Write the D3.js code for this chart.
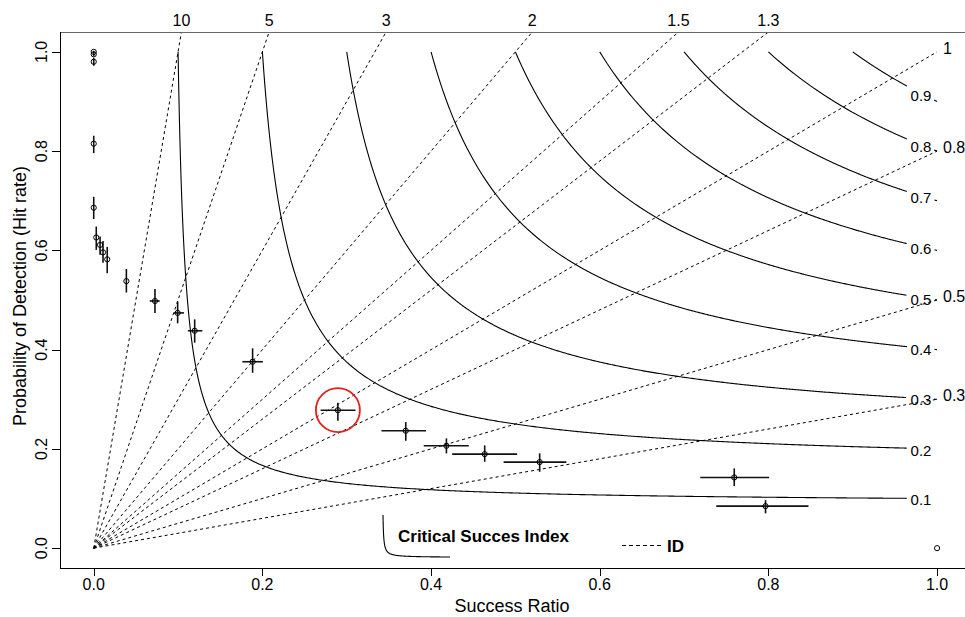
<!DOCTYPE html>
<html>
<head>
<meta charset="utf-8">
<script src="https://cdn.jsdelivr.net/npm/d3@7"></script>
<style>
  body { margin: 0; background: #fff; }
  svg { display: block; }
  text { font-family: "Liberation Sans", Arial, Helvetica, sans-serif; fill: #000; }
</style>
</head>
<body>
<svg id="chart" width="965" height="617"></svg>
<script>
// Critical success index contours
const csiLevels = [0.1, 0.2, 0.3, 0.4, 0.5, 0.6, 0.7, 0.8, 0.9];
// Frequency bias reference lines (labelled on top / right edge)
const biasTop = [10, 5, 3, 2, 1.5, 1.3];
const biasRight = [1, 0.8, 0.5, 0.3];
const axisTicks = [0, 0.2, 0.4, 0.6, 0.8, 1.0];

// Verification scores with their uncertainty ranges
const successRatio = [0.0, 0.0, 0.0, 0.0, 0.0, 0.003, 0.0075, 0.011, 0.016, 0.0387, 0.0726, 0.0995, 0.1197, 0.1884, 0.2895, 0.370, 0.4182, 0.4636, 0.5288, 0.7595, 0.7966, 1.0];
const srLow =        [0.0, 0.0, 0.0, 0.0, 0.0, 0.003, 0.0075, 0.011, 0.016, 0.0387, 0.0664, 0.0951, 0.1117, 0.1762, 0.269, 0.3412, 0.3913, 0.425, 0.486, 0.7192, 0.7382, 1.0];
const srHigh =       [0.0, 0.0, 0.0, 0.0, 0.0, 0.003, 0.0075, 0.011, 0.016, 0.0387, 0.0782, 0.107, 0.1288, 0.2006, 0.3104, 0.394, 0.4447, 0.502, 0.5604, 0.8009, 0.8475, 1.0];
const hitRate =      [1.0, 0.995, 0.980, 0.815, 0.686, 0.626, 0.611, 0.596, 0.582, 0.538, 0.498, 0.474, 0.438, 0.3756, 0.278, 0.2365, 0.2063, 0.1895, 0.1734, 0.1425, 0.0847, 0.0];
const hitLow =       [0.998, 0.991, 0.972, 0.796, 0.663, 0.601, 0.591, 0.575, 0.554, 0.515, 0.474, 0.453, 0.414, 0.3534, 0.2567, 0.2163, 0.191, 0.174, 0.1538, 0.125, 0.070, 0.0];
const hitHigh =      [1.002, 0.999, 0.988, 0.831, 0.708, 0.648, 0.628, 0.619, 0.607, 0.5625, 0.522, 0.4966, 0.461, 0.4026, 0.293, 0.254, 0.2212, 0.207, 0.191, 0.1607, 0.0968, 0.0];
const highlightIndex = 14;

const svg = d3.select("#chart");
const x = d3.scaleLinear().domain([-0.04, 1.04]).range([60, 970.8]);
const y = d3.scaleLinear().domain([-0.04, 1.04]).range([568, 32]);

svg.append("clipPath").attr("id", "plotArea")
  .append("rect")
  .attr("x", x(-0.04)).attr("y", y(1.04))
  .attr("width", x(1.04) - x(-0.04)).attr("height", y(-0.04) - y(1.04));

const plot = svg.append("g").attr("clip-path", "url(#plotArea)");
const line = d3.line().x(d => x(d[0])).y(d => y(d[1]));

// CSI curve: POD as a function of success ratio
function csiCurve(c) {
  const pts = [];
  const n = 400;
  for (let i = 0; i <= n; i++) {
    const p = 1 - (1 - c) * i / n;               // walk POD from 1 down to c
    const sr = 1 / (1 / c + 1 - 1 / p);
    pts.push([sr, p]);
  }
  for (let i = 0; i <= n; i++) {
    const sr = c + (1 - c) * i / n;              // and SR from c up to 1
    const p = 1 / (1 / c + 1 - 1 / sr);
    pts.push([sr, p]);
  }
  pts.sort((a, b) => a[0] - b[0] || b[1] - a[1]);
  return pts;
}

// CSI contours, broken where the label sits
const labelSR = 0.981;
const gapLeft = x.invert(x(labelSR) - 14), gapRight = x.invert(x(labelSR) + 13);
csiLevels.forEach(c => {
  const pts = csiCurve(c);
  plot.append("path").attr("d", line(pts.filter(d => d[0] <= gapLeft)))
    .attr("fill", "none").attr("stroke", "#000").attr("stroke-width", 1.1);
  if (c >= 0.3) {
    plot.append("path").attr("d", line(pts.filter(d => d[0] >= gapRight)))
      .attr("fill", "none").attr("stroke", "#000").attr("stroke-width", 1.1);
  }
  const pv = 1 / (1 / c + 1 - 1 / labelSR);
  svg.append("text").attr("x", x(labelSR)).attr("y", y(pv) + 1.5)
    .attr("text-anchor", "middle").attr("dominant-baseline", "central")
    .attr("font-size", 15).text(c);
});

// Bias lines
const allBias = biasTop.concat(biasRight);
allBias.forEach(b => {
  plot.append("path").attr("d", line([[0, 0], [1, b]]))
    .attr("fill", "none").attr("stroke", "#000").attr("stroke-width", 1)
    .attr("stroke-dasharray", "3,3");
});
biasTop.forEach(b => {
  svg.append("text").attr("x", x(1.04 / b)).attr("y", 26)
    .attr("text-anchor", "middle").attr("font-size", 16).text(b);
});
biasRight.forEach(b => {
  svg.append("text").attr("x", 943).attr("y", y(b) - 3.5)
    .attr("dominant-baseline", "central").attr("font-size", 16).text(b);
});

// Error bars and points
const pts = successRatio.map((s, i) => ({
  sr: s, pod: hitRate[i], srLo: srLow[i], srHi: srHigh[i], pLo: hitLow[i], pHi: hitHigh[i]
}));
const marks = plot.append("g");
marks.selectAll(".hbar").data(pts.filter(d => d.srHi > d.srLo)).join("line")
  .attr("x1", d => x(d.srLo)).attr("x2", d => x(d.srHi))
  .attr("y1", d => y(d.pod)).attr("y2", d => y(d.pod))
  .attr("stroke", "#111").attr("stroke-width", 1.6);
marks.selectAll(".vbar").data(pts.filter(d => d.pHi > d.pLo)).join("line")
  .attr("x1", d => x(d.sr)).attr("x2", d => x(d.sr))
  .attr("y1", d => y(d.pLo)).attr("y2", d => y(d.pHi))
  .attr("stroke", "#111").attr("stroke-width", 1.6);
marks.selectAll("circle").data(pts).join("circle")
  .attr("cx", d => x(d.sr)).attr("cy", d => y(d.pod)).attr("r", 2.6)
  .attr("fill", "none").attr("stroke", "#000").attr("stroke-width", 1);

// Highlighted score
const hp = pts[highlightIndex];
svg.append("circle").attr("cx", x(hp.sr)).attr("cy", y(hp.pod)).attr("r", 22)
  .attr("fill", "none").attr("stroke", "#e0231c").attr("stroke-width", 1.8);

// Frame
const frame = svg.append("g").attr("stroke", "#000").attr("stroke-width", 1);
frame.append("line").attr("x1", 60).attr("x2", 965).attr("y1", 32.5).attr("y2", 32.5).attr("stroke", "#666");
frame.append("line").attr("x1", 60.5).attr("x2", 60.5).attr("y1", 32).attr("y2", 568);
frame.append("line").attr("x1", 60).attr("x2", 965).attr("y1", 568.5).attr("y2", 568.5);

// Axes
const fmt = d3.format(".1f");
axisTicks.forEach(t => {
  svg.append("line").attr("x1", Math.round(x(t)) + 0.5).attr("x2", Math.round(x(t)) + 0.5)
    .attr("y1", 568).attr("y2", 576).attr("stroke", "#000");
  svg.append("text").attr("x", x(t)).attr("y", 590)
    .attr("text-anchor", "middle").attr("font-size", 16).text(fmt(t));
  svg.append("line").attr("y1", Math.round(y(t)) + 0.5).attr("y2", Math.round(y(t)) + 0.5)
    .attr("x1", 52).attr("x2", 60).attr("stroke", "#000");
  svg.append("text").attr("transform", `translate(47,${y(t)}) rotate(-90)`)
    .attr("text-anchor", "middle").attr("font-size", 16).text(fmt(t));
});
svg.append("text").attr("x", 512).attr("y", 612)
  .attr("text-anchor", "middle").attr("font-size", 18).text("Success Ratio");
svg.append("text").attr("transform", `translate(26,296) rotate(-90)`)
  .attr("text-anchor", "middle").attr("font-size", 18).text("Probability of Detection (Hit rate)");

// Legend
const lx = d3.scaleLinear().domain([0.1, 1]).range([383, 450]);
const ly = d3.scaleLinear().domain([1, 0.1]).range([515, 557]);
svg.append("path")
  .attr("d", d3.line().x(d => lx(d[0])).y(d => ly(d[1]))(csiCurve(0.1)))
  .attr("fill", "none").attr("stroke", "#000").attr("stroke-width", 1.1);
svg.append("text").attr("x", 398).attr("y", 542).attr("font-size", 17)
  .attr("font-weight", "bold").text("Critical Succes Index");
svg.append("line").attr("x1", 622).attr("x2", 661).attr("y1", 545.5).attr("y2", 545.5)
  .attr("stroke", "#000").attr("stroke-dasharray", "4,3");
svg.append("text").attr("x", 667).attr("y", 552).attr("font-size", 17)
  .attr("font-weight", "bold").text("ID");
</script>
</body>
</html>
